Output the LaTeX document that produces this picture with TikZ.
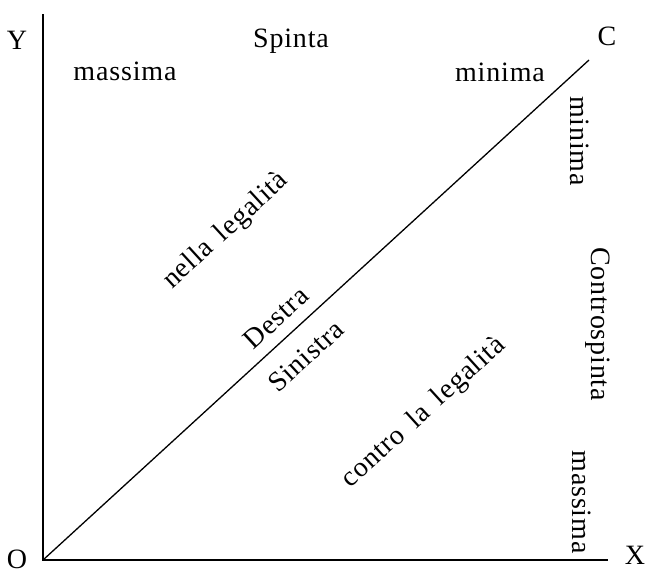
\documentclass[tikz,border=0pt]{standalone}
\usepackage{fontspec}
\setmainfont{Liberation Serif}[LetterSpace=3,WordSpace=1.6]
\begin{document}
\begin{tikzpicture}[x=1pt,y=-1pt,
  lbl/.style={font=\fontsize{28}{30}\selectfont, inner sep=0pt},
  axis/.style={line width=1.8pt},
  diag/.style={line width=1.3pt}]
\useasboundingbox (0,0) rectangle (645,574);
\coordinate (o) at (43,560);
\coordinate (ytop) at (43,14);
\coordinate (xend) at (608,560);
\coordinate (c) at (589,60);
\draw[axis] (ytop) -- (o) -- (xend);
\draw[diag] (o) -- (c);
\node[lbl] (Y) at (17,40) {Y};
\node[lbl] (O) at (17,559) {O};
\node[lbl] (X) at (635,555) {X};
\node[lbl] (C) at (607,36) {C};
\node[lbl] (spinta) at (291,41) {Spinta};
\node[lbl] (massima1) at (125,71) {massima};
\node[lbl] (minima1) at (500,72) {minima};
\node[lbl,rotate=-90] (minima2) at (580,141) {minima};
\node[lbl,rotate=-90] (contro) at (598,324) {Controspinta};
\node[lbl,rotate=-90] (massima2) at (582,502) {massima};
\node[lbl,rotate=42.5] (nella) at (226,231) {nella legalità};
\node[lbl,rotate=42.5] (destra) at (276,318) {Destra};
\node[lbl,rotate=42.5] (sinistra) at (306,356) {Sinistra};
\node[lbl,rotate=42.3] (contrala) at (424,413) {contro la legalità};
\end{tikzpicture}
\end{document}
